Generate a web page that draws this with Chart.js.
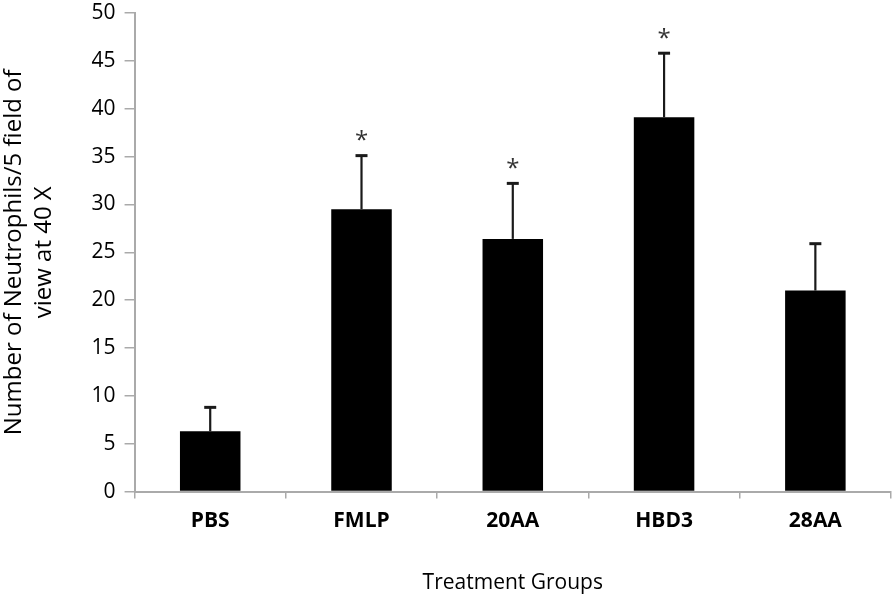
<!DOCTYPE html>
<html><head><meta charset="utf-8">
<script src="https://cdn.jsdelivr.net/npm/chart.js@4"></script>
<style>html,body{margin:0;padding:0;background:#fff}#wrap{width:896px;height:601px}</style>
</head><body><div id="wrap"><canvas id="c" width="896" height="601"></canvas></div>
<script>
const categories = ["PBS", "FMLP", "20AA", "HBD3", "28AA"];
const meanValues = [6.3, 29.5, 26.4, 39.1, 21.0];
const errorValues = [2.5, 5.6, 5.8, 6.7, 4.9];
const significance = ["", "*", "*", "*", ""];
const yTicks = [0, 5, 10, 15, 20, 25, 30, 35, 40, 45, 50];

const FONT = "'Open Sans', Lato, sans-serif";

const errorBarPlugin = {
  id: 'errorBars',
  afterDatasetsDraw(chart) {
    const ctx = chart.ctx;
    const meta = chart.getDatasetMeta(0);
    const ys = chart.scales.y;
    ctx.save();
    meta.data.forEach((bar, i) => {
      const x = bar.x;
      const yTop = ys.getPixelForValue(meanValues[i] + errorValues[i]);
      const yBase = ys.getPixelForValue(meanValues[i]);
      ctx.strokeStyle = '#1a1a1a';
      ctx.lineWidth = 2.2;
      ctx.beginPath();
      ctx.moveTo(x, yBase);
      ctx.lineTo(x, yTop);
      ctx.stroke();
      ctx.lineWidth = 3;
      ctx.beginPath();
      ctx.moveTo(x - 6, yTop);
      ctx.lineTo(x + 6, yTop);
      ctx.stroke();
      if (significance[i]) {
        ctx.fillStyle = '#333';
        ctx.font = "24px " + FONT;
        ctx.textAlign = 'center';
        ctx.textBaseline = 'middle';
        ctx.fillText(significance[i], x, yTop - 14);
      }
    });
    ctx.restore();
  }
};

new Chart(document.getElementById('c'), {
  type: 'bar',
  data: {
    labels: categories,
    datasets: [{
      data: meanValues,
      backgroundColor: '#000',
      borderColor: '#000',
      borderWidth: 0,
      barPercentage: 0.8,
      categoryPercentage: 0.5
    }]
  },
  options: {
    responsive: false,
    animation: false,
    layout: { padding: { top: 0, right: 5, bottom: 5, left: 0 } },
    plugins: { legend: { display: false }, tooltip: { enabled: false } },
    scales: {
      x: {
        grid: { display: true, offset: true, drawOnChartArea: false, drawTicks: true, tickLength: 7, color: '#aaa', lineWidth: 1.5 },
        border: { display: true, color: '#aaa', width: 2 },
        ticks: { color: '#000', font: { family: FONT, size: 21, weight: 'bold', lineHeight: 1.2 }, padding: 10 },
        title: { display: true, text: 'Treatment Groups', color: '#000', font: { family: FONT, size: 21, lineHeight: 1.2 }, padding: { top: 27, bottom: 0 } }
      },
      y: {
        min: 0, max: 50,
        afterBuildTicks(axis) { axis.ticks = yTicks.map(v => ({ value: v })); },
        afterFit(axis) { axis.paddingTop = 13; },
        grid: { display: true, drawOnChartArea: false, drawTicks: true, tickLength: 10, color: '#aaa', lineWidth: 1.5 },
        border: { display: true, color: '#aaa', width: 2 },
        ticks: { color: '#000', font: { family: FONT, size: 21, weight: 500, lineHeight: 0.8 }, padding: 9 },
        title: { display: true, text: ['Number of Neutrophils/5 field of', 'view at 40 X'], color: '#000', font: { family: FONT, size: 24, lineHeight: 1.22 }, padding: { top: 0, bottom: 24 } }
      }
    }
  },
  plugins: [errorBarPlugin]
});
</script></body></html>
